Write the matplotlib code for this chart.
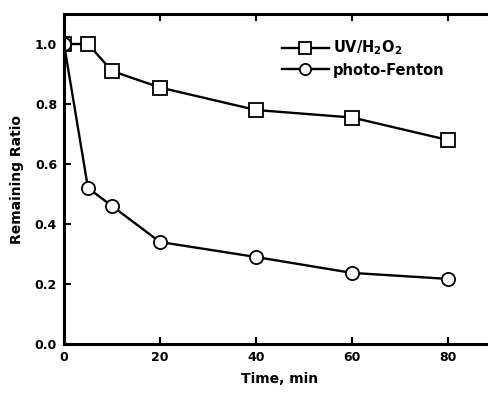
import numpy as np
import matplotlib.pyplot as plt

# Remaining ratio vs. irradiation time
time_min = [0, 5, 10, 20, 40, 60, 80]
uv_h2o2 = [1.0, 1.0, 0.91, 0.855, 0.78, 0.755, 0.68]
photo_fenton = [1.0, 0.52, 0.46, 0.34, 0.29, 0.237, 0.217]

x_ticks = [0, 20, 40, 60, 80]
y_ticks = [0.0, 0.2, 0.4, 0.6, 0.8, 1.0]

plt.rcParams['font.family'] = 'DejaVu Sans'
plt.rcParams['font.weight'] = 'bold'

fig = plt.figure(figsize=(4.89, 3.93), dpi=100)
# axes runs past the right edge of the figure, like a cropped scan
ax = fig.add_axes([64 / 489, 49 / 393, 432 / 489, 330 / 393])

ax.plot(time_min, uv_h2o2, '-', color='black', lw=1.7, marker='s', ms=9.5,
        mfc='white', mec='black', mew=1.3, label='UV/H$_\\mathbf{2}$O$_\\mathbf{2}$')
ax.plot(time_min, photo_fenton, '-', color='black', lw=1.7, marker='o', ms=9.5,
        mfc='white', mec='black', mew=1.3, label='photo-Fenton')

ax.set_xlim(0, 90)
ax.set_ylim(0, 1.1)
ax.set_xticks(x_ticks)
ax.set_yticks(y_ticks)
ax.set_yticklabels([f'{v:.1f}' for v in y_ticks])
ax.tick_params(direction='in', length=5, width=1.5, top=True, right=True,
               labelsize=9, pad=5)
for s in ax.spines.values():
    s.set_linewidth(2.2)

ax.set_xlabel('Time, min', fontsize=10, fontweight='bold', labelpad=6)
ax.set_ylabel('Remaining Ratio', fontsize=10, fontweight='bold', labelpad=8)

leg = ax.legend(loc='upper left', bbox_to_anchor=(0.505, 0.925), frameon=False,
                fontsize=10.5, handlelength=3.2, handletextpad=0.3,
                labelspacing=0.35, borderpad=0.0, borderaxespad=0.0,
                markerscale=0.85)
for t in leg.get_texts():
    t.set_fontweight('bold')

fig.savefig('out.png', dpi=100)
